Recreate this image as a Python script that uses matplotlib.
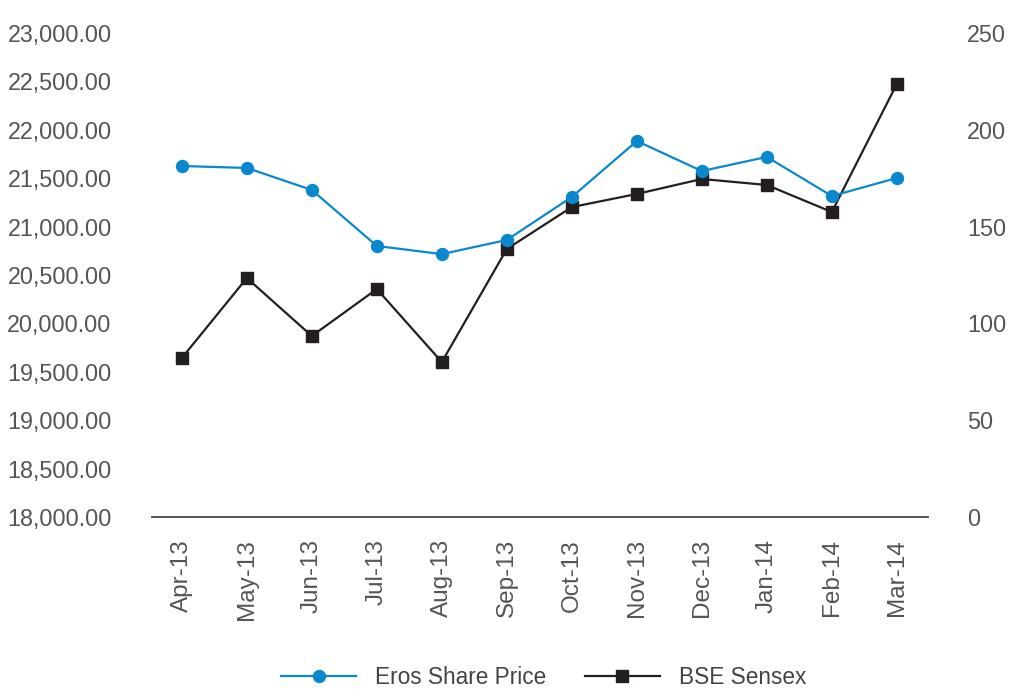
import numpy as np
import matplotlib
matplotlib.use("Agg")
from matplotlib import pyplot as plt
from matplotlib.ticker import FuncFormatter

# data
months = ['Apr-13', 'May-13', 'Jun-13', 'Jul-13', 'Aug-13', 'Sep-13',
          'Oct-13', 'Nov-13', 'Dec-13', 'Jan-14', 'Feb-14', 'Mar-14']
erosPrice = [181.3, 180.3, 168.9, 140.0, 135.8, 143.1,
             165.3, 194.2, 178.7, 186.0, 165.8, 175.1]
bseSensex = [19643, 20469, 19870, 20355, 19601, 20769,
             21202, 21337, 21492, 21430, 21151, 22473]
leftTicks = np.arange(18000, 23001, 500)
rightTicks = np.arange(0, 251, 50)

fontList = ['Liberation Sans', 'DejaVu Sans']
labelGrey = '#555555'
blue = '#0a88cd'
black = '#231f20'

plt.rcParams['font.family'] = fontList

fig = plt.figure(figsize=(10.11, 6.89), dpi=100)
ax = fig.add_axes([0.1503, 0.2496, 0.7676, 0.7025])
ax2 = ax.twinx()

x = np.arange(len(months))
lineBse, = ax.plot(x, bseSensex, color=black, lw=1.6, marker='s',
                   markersize=8.6, label='BSE Sensex', zorder=3)
lineEros, = ax2.plot(x, erosPrice, color=blue, lw=1.6, marker='o',
                     markersize=8.6, label='Eros Share Price', zorder=3)

ax.set_xlim(-0.46, 11.48)
ax.set_ylim(18000, 23000)
ax2.set_ylim(0, 250)
ax.set_yticks(leftTicks)
ax2.set_yticks(rightTicks)
ax.yaxis.set_major_formatter(FuncFormatter(lambda v, p: '{:,.2f}'.format(v)))
ax.set_xticks(x)
ax.set_xticklabels(months, rotation=90, fontsize=17.5, color=labelGrey)

for a in (ax, ax2):
    for side in ('top', 'left', 'right', 'bottom'):
        a.spines[side].set_visible(False)
    a.tick_params(length=0)
ax.spines['bottom'].set_visible(True)
ax.spines['bottom'].set_color('#444444')
ax.spines['bottom'].set_linewidth(1.3)

# pads are in points: ~40 px gap to the plot area in the reference
ax.tick_params(axis='y', pad=29, labelsize=16.8, labelcolor=labelGrey)
ax2.tick_params(axis='y', pad=28, labelsize=16.8, labelcolor=labelGrey)
ax.tick_params(axis='x', pad=16)

leg = fig.legend(handles=[lineEros, lineBse], loc='center',
                 bbox_to_anchor=(0.538, 0.0174), ncol=2, frameon=False,
                 prop={'size': 16.3}, handlelength=3.3,
                 handletextpad=0.85, columnspacing=1.7)
for t in leg.get_texts():
    t.set_color('#444444')

fig.savefig('out.png', dpi=100)
